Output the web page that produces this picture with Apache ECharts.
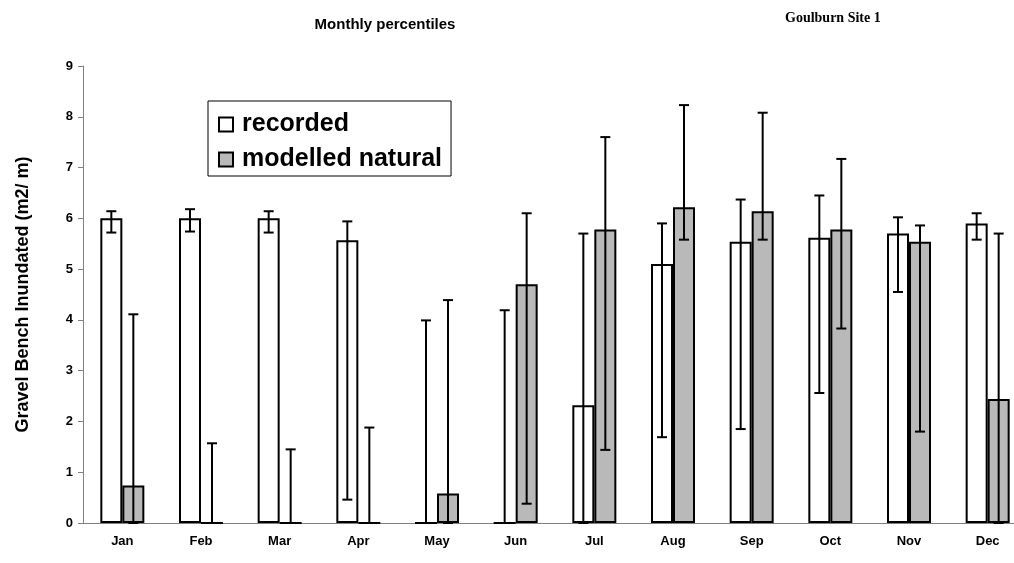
<!DOCTYPE html>
<html>
<head>
<meta charset="utf-8">
<script src="https://cdn.jsdelivr.net/npm/echarts@6/dist/echarts.min.js"></script>
<style>
  html,body{margin:0;padding:0;background:#fff;overflow:hidden}
  /* plot runs past the right edge in the original, so the canvas is a bit wider than the window */
  #chart{width:1040px;height:563px}
</style>
</head>
<body>
<div id="chart"></div>
<script>
  // months on the x axis
  var months = ['Jan','Feb','Mar','Apr','May','Jun','Jul','Aug','Sep','Oct','Nov','Dec'];
  // median bars
  var recorded = [6.0, 6.0, 6.0, 5.57, 0, 0, 2.32, 5.1, 5.54, 5.62, 5.7, 5.9];
  var modelled = [0.74, 0, 0, 0, 0.58, 4.7, 5.78, 6.22, 6.14, 5.78, 5.54, 2.44];
  // percentile ranges (low / high)
  var recordedLow  = [5.72, 5.74, 5.72, 0.46, 0, 0, 0, 1.69, 1.85, 2.56, 4.55, 5.58];
  var recordedHigh = [6.14, 6.18, 6.14, 5.94, 3.99, 4.19, 5.7, 5.9, 6.37, 6.45, 6.02, 6.1];
  var modelledLow  = [0, 0, 0, 0, 0, 0.38, 1.44, 5.58, 5.58, 3.83, 1.8, 0];
  var modelledHigh = [4.11, 1.57, 1.45, 1.88, 4.39, 6.1, 7.6, 8.23, 8.08, 7.17, 5.86, 5.7];
  var yTicks = [0, 1, 2, 3, 4, 5, 6, 7, 8, 9];

  var chart = echarts.init(document.getElementById('chart'));

  function errRows(lo, hi){
    return months.map(function(m, i){ return [i, lo[i], hi[i]]; });
  }
  // draws an error bar centred on one of the two bars of a month
  function errRenderer(offset){
    return function(params, api){
      var i = api.value(0);
      var lo = api.coord([i, api.value(1)]);
      var hi = api.coord([i, api.value(2)]);
      var x = lo[0] + offset;
      var cap = 5;
      var st = {stroke:'#000', lineWidth:2};
      return {type:'group', children:[
        {type:'line', shape:{x1:x, y1:hi[1], x2:x, y2:lo[1]}, style:st},
        {type:'line', shape:{x1:x-cap, y1:hi[1], x2:x+cap, y2:hi[1]}, style:st},
        {type:'line', shape:{x1:x-cap, y1:lo[1], x2:x+cap, y2:lo[1]}, style:st}
      ]};
    };
  }

  var font = 'Liberation Sans, Arial, sans-serif';
  var option = {
    animation:false,
    title:[{
      text:'Monthly percentiles', left:380, top:12, textAlign:'center',
      textStyle:{fontFamily:font, fontSize:15, fontWeight:'bold', color:'#000'}
    },{
      text:'Goulburn Site 1', left:780, top:6,
      textStyle:{fontFamily:'Liberation Serif, Times New Roman, serif', fontSize:14, fontWeight:'bold', color:'#000'}
    }],
    legend:{
      data:['recorded','modelled natural'],
      orient:'vertical', left:208, top:101,
      itemWidth:14, itemHeight:14, itemGap:10,
      padding:[11,9,4,10],
      borderColor:'#000', borderWidth:1,
      icon:'rect',
      textStyle:{fontFamily:font, fontSize:25, fontWeight:'bold', color:'#000', padding:[0,0,0,4]}
    },
    grid:{left:83, top:66, width:944, height:457},
    xAxis:{
      type:'category', data:months,
      axisLine:{lineStyle:{color:'#808080', width:1}},
      axisTick:{length:5, lineStyle:{color:'#808080'}},
      axisLabel:{fontFamily:font, fontSize:13, fontWeight:'bold', color:'#000', margin:12}
    },
    yAxis:{
      type:'value', min:yTicks[0], max:yTicks[yTicks.length-1], interval:1,
      name:'Gravel Bench Inundated (m2/ m)', nameLocation:'middle', nameGap:51,
      nameTextStyle:{fontFamily:font, fontSize:18, fontWeight:'bold', color:'#000'},
      splitLine:{show:false},
      axisLine:{show:true, lineStyle:{color:'#808080', width:1}},
      axisTick:{show:true, length:5, lineStyle:{color:'#808080'}},
      axisLabel:{fontFamily:font, fontSize:13, fontWeight:'bold', color:'#000', margin:10}
    },
    series:[{
      name:'recorded', type:'bar', data:recorded,
      barWidth:22, barGap:'0%',
      itemStyle:{color:'#fff', borderColor:'#000', borderWidth:2}
    },{
      name:'modelled natural', type:'bar', data:modelled,
      barWidth:22,
      itemStyle:{color:'#b9b9b9', borderColor:'#000', borderWidth:2}
    },{
      type:'custom', name:'recErr', data:errRows(recordedLow, recordedHigh),
      renderItem:errRenderer(-11), z:5, encode:{x:0, y:[1,2]}
    },{
      type:'custom', name:'modErr', data:errRows(modelledLow, modelledHigh),
      renderItem:errRenderer(11), z:5, encode:{x:0, y:[1,2]}
    }]
  };
  chart.setOption(option);
</script>
</body>
</html>
